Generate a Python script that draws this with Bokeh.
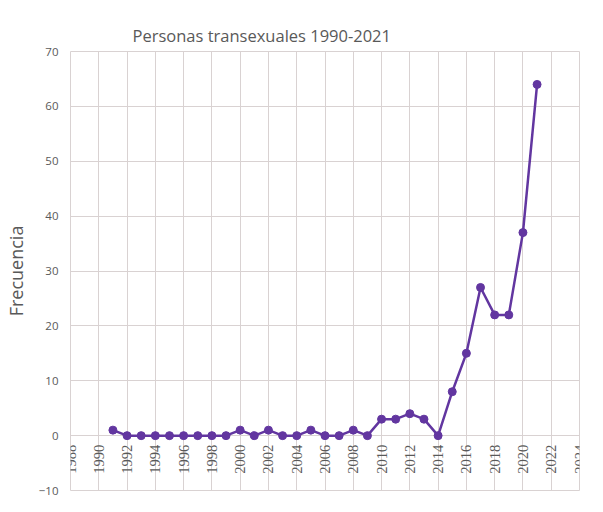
import numpy as np
from bokeh.plotting import figure
from bokeh.models import SingleIntervalTicker, Range1d, ColumnDataSource, LabelSet
from bokeh.embed import file_html
from bokeh.resources import INLINE

years = list(range(1991, 2022))
values = [1, 0, 0, 0, 0, 0, 0, 0, 0, 1, 0, 1, 0, 0, 1, 0, 0, 1, 0,
          3, 3, 4, 3, 0, 8, 15, 27, 22, 22, 37, 64]
tick_years = list(range(1988, 2025, 2))
tick_labels = [str(t) for t in tick_years]
title_text = "Personas transexuales 1990-2021"

GRID = "#d9d2d2"
TXT = "#595959"
PURPLE = "#6236a0"

p = figure(width=587, height=496, output_backend="svg", toolbar_location=None,
           x_range=Range1d(1988, 2024), y_range=Range1d(-10, 70),
           min_border_left=66, min_border_right=8, min_border_top=51, min_border_bottom=6)

p.title.text = title_text
p.title.align = "left"
p.title.offset = 62
p.title.text_font = "Open Sans"
p.title.text_font_style = "normal"
p.title.text_font_size = "16.5px"
p.title.text_color = TXT

p.line(years, values, line_color=PURPLE, line_width=2.5)
p.scatter(years, values, size=8, fill_color=PURPLE, line_color=PURPLE)

lab = ColumnDataSource(dict(x=tick_years, y=[0] * len(tick_years), t=tick_labels))
p.add_layout(LabelSet(x="x", y="y", text="t", source=lab, angle=np.pi / 2, y_offset=-9,
                      text_align="right", text_baseline="middle",
                      text_font="Liberation Sans", text_font_size="14.5px",
                      text_color=TXT))

p.xaxis.ticker = SingleIntervalTicker(interval=2)
p.xaxis.visible = False
p.yaxis.ticker = SingleIntervalTicker(interval=10)
p.yaxis.major_label_text_font = "Open Sans"
p.yaxis.major_label_text_font_size = "11.5px"
p.yaxis.major_label_text_color = TXT
p.yaxis.major_label_standoff = 12
p.yaxis.axis_line_color = None
p.yaxis.major_tick_line_color = None
p.yaxis.minor_tick_line_color = None
p.yaxis.major_tick_out = 0
p.yaxis.minor_tick_out = 0

p.yaxis.axis_label = "Frecuencia"
p.yaxis.axis_label_standoff = 8
p.yaxis.axis_label_text_font = "Open Sans"
p.yaxis.axis_label_text_font_style = "normal"
p.yaxis.axis_label_text_font_size = "18px"
p.yaxis.axis_label_text_color = TXT

p.xgrid.grid_line_color = GRID
p.ygrid.grid_line_color = GRID
p.outline_line_color = GRID

open("out.html", "w").write(file_html(p, INLINE))
